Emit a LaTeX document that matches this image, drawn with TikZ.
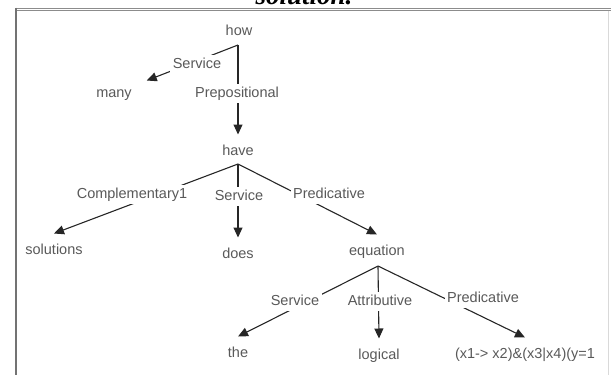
\documentclass[tikz,border=0pt]{standalone}
\usepackage{fontspec}
\setmainfont{Liberation Sans}
\newfontfamily\capfont{Liberation Serif}
\usetikzlibrary{arrows.meta}

\begin{document}
\begin{tikzpicture}[x=1pt,y=-1pt,
  word/.style={anchor=base,inner xsep=4pt,inner ysep=10pt,outer sep=0pt,
    text height=10.5pt,text depth=3pt,text=black!65,font=\fontsize{14.5}{17}\selectfont},
  rel/.style={word,fill=white,inner sep=2.5pt},
  link/.style={line width=1.1pt,black!85},
  arr/.style={link,-{Triangle[length=10pt,width=9pt]}}]

\useasboundingbox (0,0) rectangle (611,375);

\draw[black!45,line width=1pt] (15,8) -- (611,8);     % double rule on top
\draw[black!45,line width=1pt] (15,10.5) -- (611,10.5);
\draw[black!55,line width=2pt] (15.5,7.5) -- (15.5,375); % left side
\draw[black!15,line width=1pt] (608,10.5) -- (608,375);  % right side
\node[anchor=base] (capt) at (304,4.5) {\capfont\bfseries\itshape\fontsize{27}{30}\selectfont solution.};

\node[word] (how) at (239,35) {how};
\node[word,inner xsep=15pt] (many) at (114,97) {many};
\node[word] (have) at (238,155) {have};
\node[word] (solutions) at (54,254) {solutions};
\node[word] (does) at (238,258) {does};
\node[word] (equation) at (377,255) {equation};
\node[word] (the) at (238,357) {the};
\node[word] (logical) at (379,359) {logical};
\node[word] (formula) at (525,358) {(x1-> x2)\&(x3|x4)(y=1};

\coordinate (howb) at (238,45);
\coordinate (haveb) at (238,164);
\coordinate (equationb) at (378,266);

% out of how
\draw[arr] (howb) -- (many);
\draw[arr] (howb) -- (have.north);
\node[rel] (svcA) at (197,68) {Service};
\node[rel] (prep) at (237,97) {Prepositional};

% out of have
\draw[arr] (haveb) -- (solutions.north);
\draw[arr] (haveb) -- (does.north);
\draw[arr] (haveb) -- (equation.north);
\node[rel] (compl) at (132,198) {Complementary1};
\node[rel] (svcB) at (239,200) {Service};
\node[rel] (predA) at (329,198) {Predicative};

% out of equation
\draw[arr] (equationb) -- (the.north);
\draw[arr] (equationb) -- (logical.north);
\draw[arr] (equationb) -- (formula.north);
\node[rel] (svcC) at (295,305) {Service};
\node[rel] (attr) at (380,305) {Attributive};
\node[rel] (predB) at (483,302) {Predicative};

\end{tikzpicture}
\end{document}
